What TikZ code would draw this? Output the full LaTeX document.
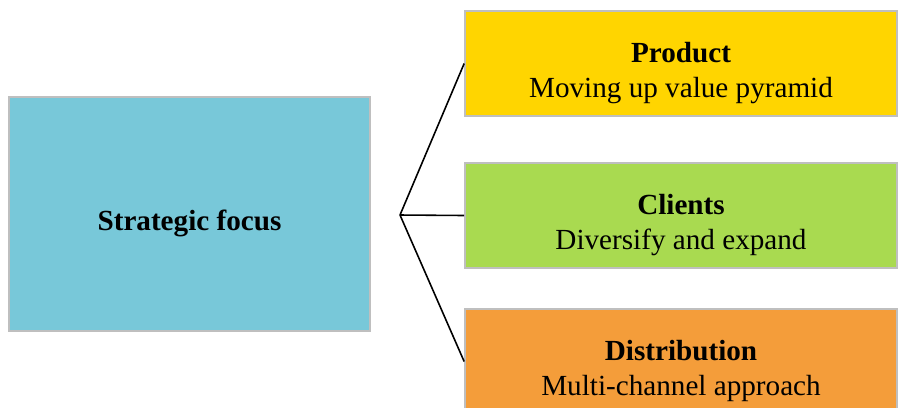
\documentclass[tikz,border=0pt]{standalone}
\usepackage{fontspec}
\setmainfont{Liberation Serif}
\usepackage{xcolor}
\usetikzlibrary{positioning}
\definecolor{focusblue}{RGB}{120,200,217}
\definecolor{prodgold}{RGB}{255,213,0}
\definecolor{clientgreen}{RGB}{169,218,80}
\definecolor{distorange}{RGB}{244,157,58}
\definecolor{boxgray}{RGB}{191,191,191}
\newcommand{\lowr}{\rule{0pt}{22pt}}

\begin{document}
\begin{tikzpicture}[x=0.02cm,y=-0.02cm,font=\fontsize{16.6}{20}\selectfont,
 f/.style={draw=boxgray,line width=1pt,align=center,minimum width=7.22cm,minimum height=4.68cm,fill=focusblue},
 b/.style={draw=boxgray,line width=1pt,align=center,minimum width=8.64cm,minimum height=2.1cm},
 l/.style={line width=0.9pt}]
\clip (0,0) rectangle (899,407);
\node[f] (focus) at (189.5,214) {\lowr\textbf{Strategic focus}};
\node[b,fill=prodgold] (prod) at (681,63.5) {\lowr\textbf{Product}\\Moving up value pyramid};
\node[b,fill=clientgreen] (cli) at (681,215.5) {\lowr\textbf{Clients}\\Diversify and expand};
\node[b,fill=distorange] (dist) at (681,361.5) {\lowr\textbf{Distribution}\\Multi-channel approach};
\coordinate (j) at (400,215);
\draw[l] (j)--(prod.west);
\draw[l] (j)--(cli.west);
\draw[l] (j)--(dist.west);
\end{tikzpicture}
\end{document}
